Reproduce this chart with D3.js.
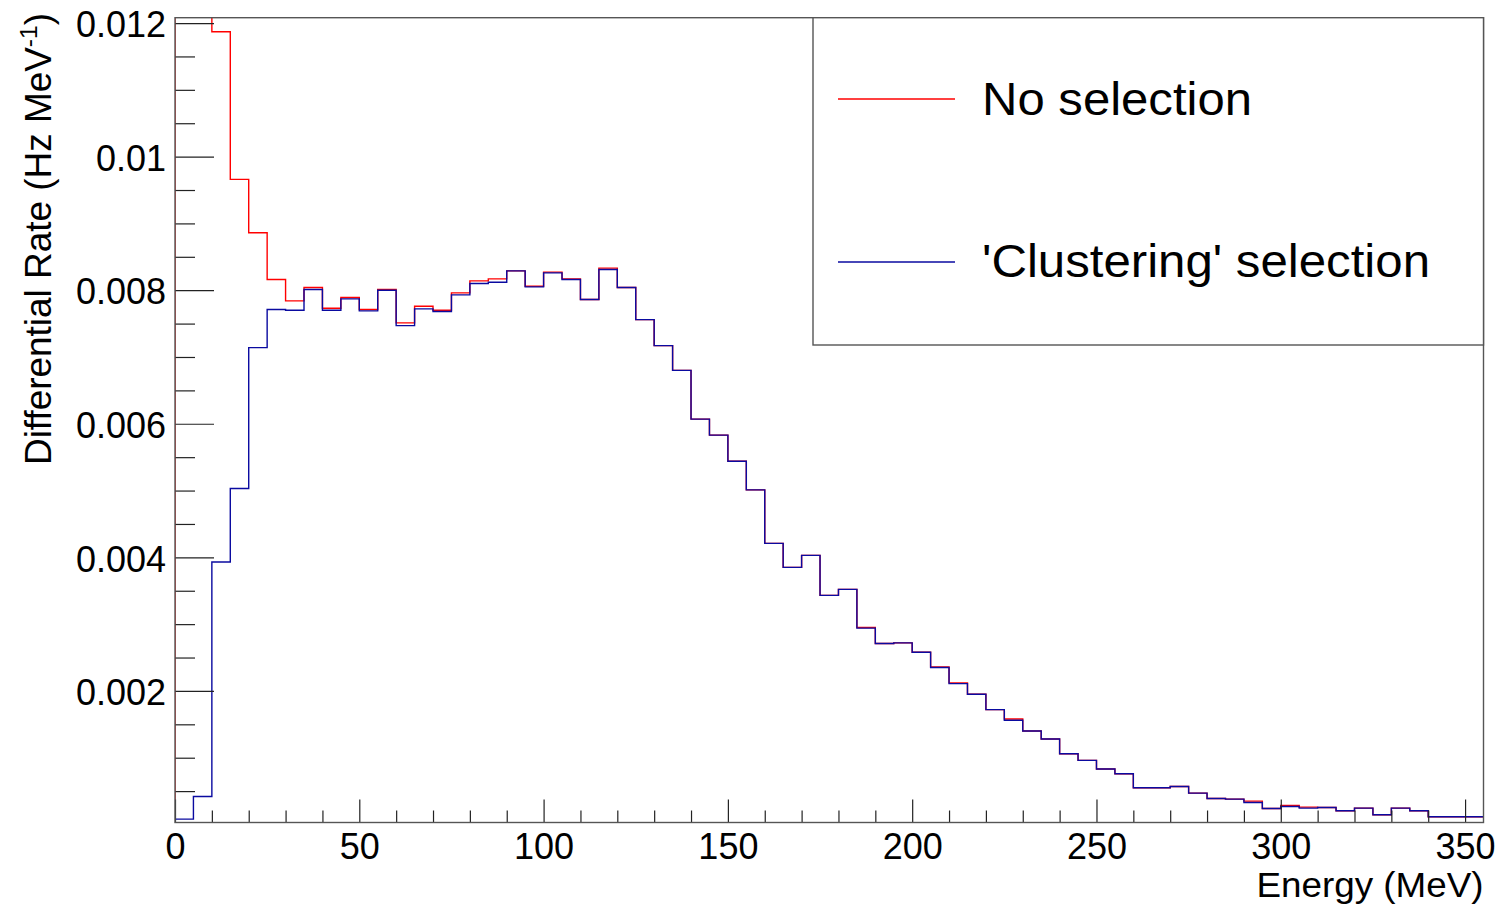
<!DOCTYPE html>
<html>
<head>
<meta charset="utf-8">
<script src="https://cdn.jsdelivr.net/npm/d3@7"></script>
<style>
  html, body { margin: 0; padding: 0; background: #fff; }
  svg { display: block; font-family: "Liberation Sans", Arial, Helvetica, sans-serif; }
</style>
</head>
<body>
<script>
// ---- data ----
const binWidth = 5;               // MeV
const binStart = 0;
const noSelection = [
  0.0122, 0.0122, 0.01187, 0.00966, 0.00886, 0.00816, 0.00784, 0.00804, 0.00773, 0.00789,
  0.00771, 0.00801, 0.00751, 0.00776, 0.00770, 0.00796, 0.00814, 0.00817, 0.00829, 0.00806,
  0.00827, 0.00817, 0.00786, 0.00833, 0.00804, 0.00756, 0.00717, 0.00680, 0.00607, 0.00583,
  0.00544, 0.00501, 0.00421, 0.00385, 0.00403, 0.00343, 0.00352, 0.00295, 0.00271, 0.00272,
  0.00258, 0.00236, 0.00212, 0.00195, 0.00172, 0.00158, 0.00140, 0.00128, 0.00106, 0.00096,
  0.00083, 0.00076, 0.00055, 0.00055, 0.00057, 0.00047, 0.00039, 0.00038, 0.00035, 0.00024,
  0.000285, 0.00026, 0.000255, 0.000205, 0.000245, 0.000145, 0.000245, 0.000205, 0.000115, 0.000115,
  0.000115
];
const clustering = [
  0.00008, 0.00042, 0.00393, 0.00503, 0.00714, 0.00771, 0.00770, 0.00801, 0.00770, 0.00787,
  0.00769, 0.00800, 0.00747, 0.00772, 0.00768, 0.00793, 0.00810, 0.00812, 0.00829, 0.00805,
  0.00826, 0.00816, 0.00786, 0.00831, 0.00804, 0.00756, 0.00717, 0.00680, 0.00607, 0.00583,
  0.00544, 0.00501, 0.00421, 0.00385, 0.00403, 0.00343, 0.00352, 0.00294, 0.00271, 0.00272,
  0.00258, 0.00235, 0.00211, 0.00195, 0.00172, 0.00156, 0.00140, 0.00128, 0.00106, 0.00096,
  0.00083, 0.00076, 0.00055, 0.00055, 0.00057, 0.00047, 0.00039, 0.00038, 0.00033, 0.00024,
  0.00027, 0.000245, 0.000255, 0.000205, 0.000245, 0.000145, 0.000245, 0.000205, 0.000115, 0.000115,
  0.000115
];
const xTickValues = [0, 50, 100, 150, 200, 250, 300, 350];
const xTickLabels = ["0", "50", "100", "150", "200", "250", "300", "350"];
const yTickValues = [0.002, 0.004, 0.006, 0.008, 0.010, 0.012];
const yTickLabels = ["0.002", "0.004", "0.006", "0.008", "0.01", "0.012"];
const seriesNames = ["No selection", "'Clustering' selection"];
const seriesColors = ["#ff0000", "#0a0aa0"];
const xTitle = "Energy (MeV)";
const yTitleMain = "Differential Rate (Hz MeV";
const yTitleSup = "-1";
const yTitleEnd = ")";

// ---- layout ----
const W = 1507, H = 905;
const L = 175, R = 1483.5, T = 17.7, B = 822.5;

const svg = d3.select("body").append("svg").attr("width", W).attr("height", H);

const x = d3.scaleLinear().domain([0, 355]).range([L, R]);
const y = d3.scaleLinear().domain([0.00003, 0.01208]).range([B, T]);

svg.append("defs").append("clipPath").attr("id", "clip")
  .append("rect").attr("x", L).attr("y", T).attr("width", R - L).attr("height", B - T);

// histogram step path
function stepPoints(vals) {
  const pts = [];
  pts.push([binStart, y.domain()[0]]);
  vals.forEach((v, i) => {
    const x0 = binStart + i * binWidth, x1 = x0 + binWidth;
    pts.push([x0, v]); pts.push([x1, v]);
  });
  return pts;
}
const line = d3.line().x(d => x(d[0])).y(d => y(d[1]));

const plot = svg.append("g").attr("clip-path", "url(#clip)");
[noSelection, clustering].forEach((vals, k) => {
  plot.append("path")
    .attr("d", line(stepPoints(vals)))
    .attr("fill", "none")
    .attr("stroke", seriesColors[k])
    .attr("stroke-width", 1.4);
});

// ---- axes ----
const xMinor = d3.range(0, 351, 10).filter(v => v % 50 !== 0);
const yMinor = d3.range(1, 25).map(i => i * 0.0005).filter(v => Math.abs(v / 0.002 - Math.round(v / 0.002)) > 1e-6);

const gxMinor = svg.append("g").attr("transform", `translate(0,${B})`)
  .call(d3.axisBottom(x).tickValues(xMinor).tickSize(-12).tickFormat(""));
const gx = svg.append("g").attr("transform", `translate(0,${B})`)
  .call(d3.axisBottom(x).tickValues(xTickValues).tickSize(-23).tickPadding(11)
    .tickFormat((d, i) => xTickLabels[i]));
const gyMinor = svg.append("g").attr("transform", `translate(${L},0)`)
  .call(d3.axisLeft(y).tickValues(yMinor).tickSize(-20).tickFormat(""));
const gy = svg.append("g").attr("transform", `translate(${L},0)`)
  .call(d3.axisLeft(y).tickValues(yTickValues).tickSize(-39).tickPadding(9)
    .tickFormat((d, i) => yTickLabels[i]));

[gxMinor, gx, gyMinor, gy].forEach(g => {
  g.select(".domain").remove();
  g.selectAll(".tick line").attr("stroke", "#222").attr("stroke-width", 1.2);
  g.selectAll(".tick text").attr("fill", "#000").attr("font-size", 36)
    .attr("font-family", "'Liberation Sans', Arial, sans-serif");
});
gy.selectAll(".tick text").attr("dy", "0.38em");

// frame
svg.append("rect").attr("x", L).attr("y", T).attr("width", R - L).attr("height", B - T)
  .attr("fill", "none").attr("stroke", "#555").attr("stroke-width", 1.4);

// axis titles
svg.append("text").attr("x", R).attr("y", 897).attr("text-anchor", "end")
  .attr("font-size", 35).attr("fill", "#000")
  .attr("textLength", 227).attr("lengthAdjust", "spacingAndGlyphs").text(xTitle);

const yt = svg.append("text")
  .attr("transform", "translate(51,13) rotate(-90)")
  .attr("text-anchor", "end").attr("font-size", 36).attr("fill", "#000")
  .attr("textLength", 452).attr("lengthAdjust", "spacingAndGlyphs");
yt.append("tspan").text(yTitleMain);
yt.append("tspan").attr("font-size", 24).attr("dy", -14).text(yTitleSup);
yt.append("tspan").attr("dy", 14).text(yTitleEnd);

// ---- legend ----
const lg = svg.append("g");
lg.append("rect").attr("x", 813).attr("y", T).attr("width", R - 813).attr("height", 345 - T)
  .attr("fill", "#fff").attr("stroke", "#555").attr("stroke-width", 1.4);
const legendY = [99, 262];
const legendBase = [115, 277];
const legendLen = [270, 448];
seriesNames.forEach((name, k) => {
  lg.append("line").attr("x1", 838).attr("x2", 955).attr("y1", legendY[k]).attr("y2", legendY[k])
    .attr("stroke", seriesColors[k]).attr("stroke-width", 1.4);
  lg.append("text").attr("x", 982).attr("y", legendBase[k]).attr("font-size", 46)
    .attr("textLength", legendLen[k]).attr("lengthAdjust", "spacingAndGlyphs")
    .attr("fill", "#000").text(name);
});
</script>
</body>
</html>
